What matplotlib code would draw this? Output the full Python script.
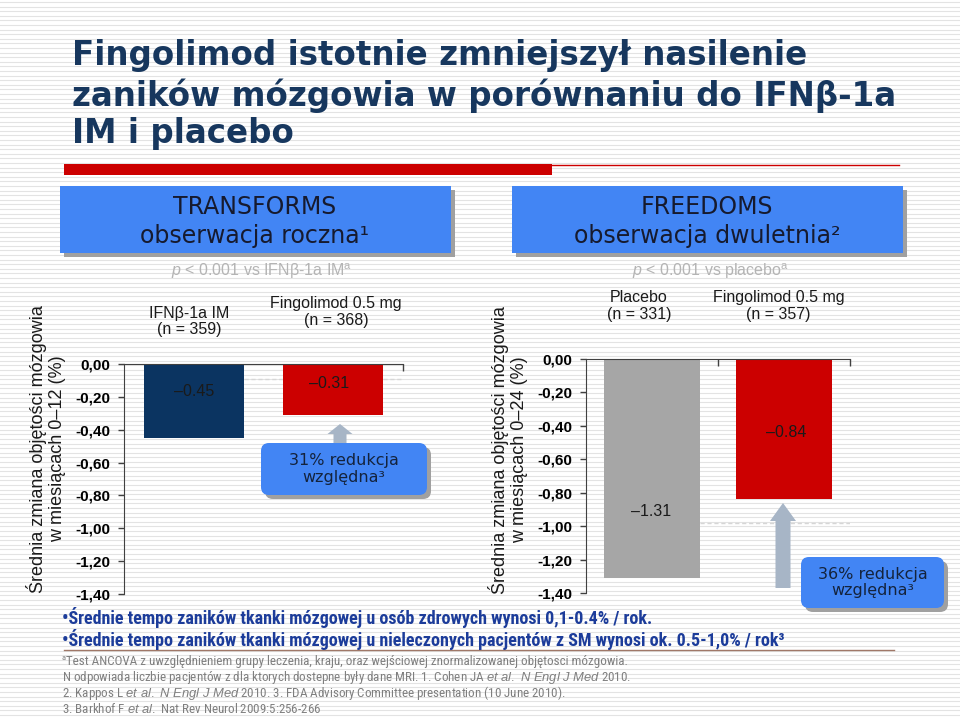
import os
import matplotlib
matplotlib.use("Agg")
import matplotlib.pyplot as plt
import numpy as np
from matplotlib import font_manager as fm
from matplotlib.font_manager import FontProperties
from matplotlib.patches import Rectangle, FancyBboxPatch, FancyArrow

ARIAL = "Liberation Sans"


def narrow_path(bold):
    # look for any condensed / narrow face that is installed
    prefs = ["Liberation Sans Narrow", "Roboto Condensed", "Open Sans Condensed",
             "Noto Sans Condensed", "DejaVu Sans Condensed", "Condensed", "Narrow"]
    found = []
    for f in fm.fontManager.ttflist:
        base = os.path.basename(f.fname)
        tag = f.name + " " + base
        is_narrow = ("Narrow" in tag or "Condensed" in tag
                     or f.stretch in ("condensed", "semi-condensed", "extra-condensed"))
        if not is_narrow or f.style != "normal":
            continue
        w = f.weight if isinstance(f.weight, int) else {"bold": 700, "semibold": 600,
                                                        "demibold": 600, "heavy": 800,
                                                        "black": 900}.get(f.weight, 400)
        if (w >= 600) != bold:
            continue
        rank = next((i for i, p in enumerate(prefs) if p.replace(" ", "") in tag.replace(" ", "")), 99)
        found.append((rank, abs(w - (700 if bold else 400)), f.fname))
    found.sort()
    return found[0][2] if found else None


def narrow_prop(bold):
    p = narrow_path(bold)
    if p:
        return FontProperties(fname=p)
    return FontProperties(family=ARIAL, weight="bold" if bold else "normal")


plt.rcParams["mathtext.fontset"] = "custom"
plt.rcParams["mathtext.rm"] = ARIAL
plt.rcParams["mathtext.it"] = ARIAL + ":italic"
plt.rcParams["mathtext.bf"] = ARIAL + ":bold"

# --- data ---
transforms_groups = ["IFNβ-1a IM\n(n = 359)", "Fingolimod 0.5 mg\n(n = 368)"]
transforms_values = [-0.45, -0.31]
transforms_labels = ["–0.45", "–0.31"]
transforms_colors = ["#0B3461", "#CC0000"]

freedoms_groups = ["Placebo\n(n = 331)", "Fingolimod 0.5 mg\n(n = 357)"]
freedoms_values = [-1.31, -0.84]
freedoms_labels = ["–1.31", "–0.84"]
freedoms_colors = ["#A6A6A6", "#CC0000"]

y_ticks = [0.0, -0.2, -0.4, -0.6, -0.8, -1.0, -1.2, -1.4]
y_ticklabels = ["0,00", "-0,20", "-0,40", "-0,60", "-0,80", "-1,00", "-1,20", "-1,40"]

NAVY = "#17375E"
BOXBLUE = "#4285F4"
SHADOW = "#A0A0A0"
ARROW = "#A7B5C6"

fig = plt.figure(figsize=(9.6, 7.17), dpi=100)
renderer = fig.canvas.get_renderer()


def fit_width(texts, target):
    # scale a group of texts so the first one spans `target` pixels
    w = texts[0].get_window_extent(renderer).width
    k = target / w
    for t in texts:
        t.set_fontsize(t.get_fontsize() * k)


# striped slide background
bg = fig.add_axes([0, 0, 1, 1], zorder=0)
bg.set_xlim(0, 960)
bg.set_ylim(717, 0)
bg.axis("off")
for yy in np.arange(2, 717, 4.6):
    bg.axhline(yy, color="#E3E3E3", lw=0.8)


def bar_panel(rect, groups, values, labels, colors, label_pos, group_pos, minor, dash):
    ax = fig.add_axes(rect, zorder=2)
    ax.patch.set_alpha(0)
    x = np.arange(len(values))
    ax.bar(x, values, width=0.72, color=colors, zorder=2)
    ax.set_xlim(-0.5, 1.5)
    ax.set_ylim(-1.4, 0)
    ax.set_yticks(y_ticks)
    ax.set_yticklabels(y_ticklabels, fontsize=11, fontweight="bold", family=ARIAL)
    ax.tick_params(axis="y", length=4, width=1, pad=6, color="#404040")
    ax.set_xticks([])
    ax.set_xticks(minor, minor=True)
    ax.tick_params(axis="x", which="minor", direction="in", length=5, width=1,
                   top=True, bottom=False, color="#404040")
    for s in ["bottom", "right"]:
        ax.spines[s].set_visible(False)
    ax.spines["left"].set_color("#404040")
    ax.spines["top"].set_color("#404040")
    ax.hlines(dash[0], dash[1], 1.5, color="#D6D6D6", lw=1, ls=(0, (3, 2)), zorder=1)
    for i, (lab, (dx, ly)) in enumerate(zip(labels, label_pos)):
        ax.text(i + dx, ly, lab, ha="center", va="center", fontsize=11.5,
                family=ARIAL, color="#1A1A1A", zorder=3)
    for i, (g, (dx, gy)) in enumerate(zip(groups, group_pos)):
        ax.text(i + dx, gy, g, ha="center", va="center", fontsize=11.5,
                family=ARIAL, color="#1A1A1A", linespacing=1.15,
                transform=ax.get_xaxis_transform())
    return ax


ax1 = bar_panel([124 / 960, 1 - 594 / 717, 279 / 960, 230 / 717],
                transforms_groups, transforms_values, transforms_labels, transforms_colors,
                [(0.0, -0.17), (-0.03, -0.12)], [(-0.03, 1.185), (0.02, 1.225)],
                [1.5], (-0.09, 0.36))
ax2 = bar_panel([586 / 960, 1 - 593 / 717, 264 / 960, 234 / 717],
                freedoms_groups, freedoms_values, freedoms_labels, freedoms_colors,
                [(-0.01, -0.915), (0.02, -0.437)], [(-0.1, 1.225), (-0.04, 1.225)],
                [0.5, 1.5], (-0.98, 0.36))

# overlay with slide texts and shapes
ov = fig.add_axes([0, 0, 1, 1], zorder=3)
ov.set_xlim(0, 960)
ov.set_ylim(717, 0)
ov.axis("off")

# title
title_lines = ["zaników mózgowia w porównaniu do IFNβ-1a",
               "Fingolimod istotnie zmniejszył nasilenie",
               "IM i placebo"]
title_texts = []
for yy, line in zip([96, 56, 133], title_lines):
    title_texts.append(ov.text(72, yy, line, fontsize=22, fontweight="bold", color=NAVY,
                               family="DejaVu Sans", va="center", ha="left"))
fit_width(title_texts, 821)
ov.add_patch(Rectangle((64, 164), 488, 11, color="#CC0000", lw=0))
ov.plot([552, 899], [165, 165], color="#CC0000", lw=1)

# study header boxes
for x0, head, sub in [(60, "TRANSFORMS", "obserwacja roczna¹"),
                      (512, "FREEDOMS", "obserwacja dwuletnia²")]:
    ov.add_patch(Rectangle((x0 + 4, 190), 391, 67, color=SHADOW, lw=0))
    ov.add_patch(Rectangle((x0, 186), 391, 67, color=BOXBLUE, lw=0))
    ov.text(x0 + 195, 207, head, ha="center", va="center", fontsize=17,
            family="DejaVu Sans", color="#161A2E")
    ov.text(x0 + 195, 236, sub, ha="center", va="center", fontsize=17,
            family="DejaVu Sans", color="#161A2E")

ov.text(262, 271, r"$\mathit{p}$ < 0.001 vs IFNβ-1a IM$^{\mathrm{a}}$", ha="center",
        va="center", fontsize=11.5, family=ARIAL, color="#B4B4B4")
ov.text(710, 271, r"$\mathit{p}$ < 0.001 vs placebo$^{\mathrm{a}}$", ha="center",
        va="center", fontsize=11.5, family=ARIAL, color="#B4B4B4")

# y labels
ov.text(46, 449, "Średnia zmiana objętości mózgowia\nw miesiącach 0–12 (%)", rotation=90,
        ha="center", va="center", fontsize=13, family=ARIAL, color="#1A1A1A",
        linespacing=1.2)
ov.text(508, 450, "Średnia zmiana objętości mózgowia\nw miesiącach 0–24 (%)", rotation=90,
        ha="center", va="center", fontsize=13, family=ARIAL, color="#1A1A1A",
        linespacing=1.2)

# arrows + callouts
ov.add_patch(FancyArrow(340, 444, 0, -20, width=13, head_width=25, head_length=10,
                        length_includes_head=True, color=ARROW, lw=0))
ov.add_patch(FancyArrow(783, 588, 0, -85, width=15, head_width=26, head_length=18,
                        length_includes_head=True, color=ARROW, lw=0))
for x0, y0, w, h, txt in [(261, 443, 166, 52, "31% redukcja\nwzględna³"),
                          (801, 557, 143, 51, "36% redukcja\nwzględna³")]:
    ov.add_patch(FancyBboxPatch((x0 + 4, y0 + 4), w, h,
                                boxstyle="round,pad=0,rounding_size=8",
                                color=SHADOW, lw=0))
    ov.add_patch(FancyBboxPatch((x0, y0), w, h,
                                boxstyle="round,pad=0,rounding_size=8",
                                color=BOXBLUE, lw=0))
    ov.text(x0 + w / 2, y0 + h / 2, txt, ha="center", va="center", fontsize=11.5,
            family="DejaVu Sans", color="#14233C", linespacing=1.15)

# bullets
BULLET = "#1C3C9A"
bold_narrow = narrow_prop(True)
reg_narrow = narrow_prop(False)
b1 = ov.text(62, 617, "•Średnie tempo zaników tkanki mózgowej u osób zdrowych wynosi 0,1-0.4% / rok.",
             fontproperties=bold_narrow, fontsize=12.5, color=BULLET, va="center")
b2 = ov.text(62, 639, "•Średnie tempo zaników tkanki mózgowej u nieleczonych pacjentów z SM wynosi ok. 0.5-1,0% / rok³",
             fontproperties=bold_narrow, fontsize=12.5, color=BULLET, va="center")
fit_width([b1, b2], 593)
ov.plot([64, 894], [650, 650], color="#A07868", lw=1)

# footnotes
FOOT = "#7F7F7F"
foot_lines = [
    "ᵃTest ANCOVA z uwzględnieniem grupy leczenia, kraju, oraz wejściowej znormalizowanej objętosci mózgowia.",
    r"N odpowiada liczbie pacjentów z dla ktorych dostepne były dane MRI. 1. Cohen JA $\mathit{et\ al.\ N\ Engl\ J\ Med}$ 2010.",
    r"2. Kappos L $\mathit{et\ al.\ N\ Engl\ J\ Med}$ 2010. 3. FDA Advisory Committee presentation (10 June 2010).",
    r"3. Barkhof F $\mathit{et\ al.}$ Nat Rev Neurol 2009:5:256-266",
]
foot_texts = []
for yy, line in zip([661, 677, 693, 709], foot_lines):
    if "$" in line:
        t = ov.text(62, yy, line, fontproperties=reg_narrow, fontsize=9, color=FOOT, va="center")
    else:
        t = ov.text(62, yy, line[1:], fontproperties=reg_narrow, fontsize=9, color=FOOT,
                    va="center")
        sup = ov.text(62, yy - 3, line[0].replace("ᵃ", "a"), fontproperties=reg_narrow,
                      fontsize=6, color=FOOT, va="center")
    foot_texts.append(t)
fit_width(foot_texts, 560)
# shift first line after its small superscript
w_sup = sup.get_window_extent(renderer).width
foot_texts[0].set_x(62 + w_sup)

fig.savefig("out.png", dpi=100)
